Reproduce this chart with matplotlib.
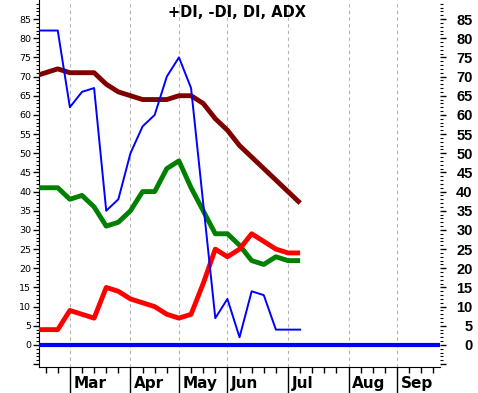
import matplotlib
matplotlib.use("Agg")
import matplotlib.pyplot as plt
from matplotlib.ticker import FixedLocator, FuncFormatter

# --- data (weekly points, x = week index, 0 = last week of Feb) ---
weeks = list(range(-2, 21))
di_line = [82, 82, 82, 62, 66, 67, 35, 38, 50, 57, 60, 70, 75, 67, 37, 7, 12, 2, 14, 13, 4, 4, 4]
minus_di = [4, 4, 4, 9, 8, 7, 15, 14, 12, 11, 10, 8, 7, 8, 16, 25, 23, 25, 29, 27, 25, 24, 24]
plus_di = [41, 41, 41, 38, 39, 36, 31, 32, 35, 40, 40, 46, 48, 41, 35, 29, 29, 26, 22, 21, 23, 22, 22]
adx = [70, 71, 72, 71, 71, 71, 68, 66, 65, 64, 64, 64, 65, 65, 63, 59, 56, 52, 49, 46, 43, 40, 37]

months = ["Mar", "Apr", "May", "Jun", "Jul", "Aug", "Sep"]
month_pos = [1, 6, 10, 14, 19, 24, 28]
week_ticks = list(range(-1, 32))
y_major = list(range(-5, 90, 5))
y_minor = list(range(-5, 90))

fig = plt.figure(figsize=(4.78, 3.93), dpi=100)
ax = fig.add_axes([0.081, 0.0662, 0.8395, 0.9338])

ax.plot(weeks, adx, color="#800000", lw=3.5, solid_capstyle="butt", zorder=3)
ax.plot(weeks, plus_di, color="#008000", lw=3.5, solid_capstyle="butt", zorder=3)
ax.plot(weeks, minus_di, color="#ff0000", lw=3.5, solid_capstyle="butt", zorder=4)
ax.plot(weeks, di_line, color="#0000ff", lw=1.4, zorder=5)
ax.axhline(0, color="#0000ff", lw=3.0, zorder=6)

ax.set_xlim(-1.57, 31.54)
ax.set_ylim(-5.74, 89.96)

# x axis: months + weekly ticks
ax.xaxis.set_major_locator(FixedLocator(month_pos))
ax.xaxis.set_minor_locator(FixedLocator(week_ticks))
ax.set_xticklabels([])
ax.tick_params(axis="x", which="major", length=19, width=1, direction="out")
ax.tick_params(axis="x", which="minor", length=4.3, width=1, direction="out")
for m, p in zip(months, month_pos):
    ax.annotate(m, xy=(p, 0), xycoords=("data", "axes fraction"),
                xytext=(2.5, -12.2), textcoords="offset points",
                ha="left", va="center", fontsize=11, fontweight="bold")
ax.grid(axis="x", which="major", color="#b4b4b4", lw=0.8, ls=(0, (3, 3)))

# left y axis
fmt = FuncFormatter(lambda v, p: "" if v < 0 else f"{int(v)}")
ax.yaxis.set_major_locator(FixedLocator(y_major))
ax.yaxis.set_minor_locator(FixedLocator(y_minor))
ax.yaxis.set_major_formatter(fmt)
ax.tick_params(axis="y", which="major", length=4.3, width=1, pad=1, labelsize=6.8)
ax.tick_params(axis="y", which="minor", length=2.2, width=0.8)

for s in ["top", "right"]:
    ax.spines[s].set_visible(False)

# right y axis
ax2 = ax.twinx()
ax2.set_ylim(ax.get_ylim())
ax2.yaxis.set_major_locator(FixedLocator(y_major))
ax2.yaxis.set_minor_locator(FixedLocator(y_minor))
ax2.yaxis.set_major_formatter(fmt)
ax2.tick_params(axis="y", which="major", length=4, width=1, pad=19.5)
ax2.tick_params(axis="y", which="minor", length=2.2, width=0.8)
for t in ax2.get_yticklabels():
    t.set_ha("right")
    t.set_family("Liberation Sans")
    t.set_fontsize(10.5)
    t.set_fontweight("bold")
for s in ["top", "right", "left", "bottom"]:
    ax2.spines[s].set_visible(False)

ax.text(0.493, 0.965, "+DI, -DI, DI, ADX", transform=ax.transAxes,
        ha="center", va="center", fontsize=10.5, fontweight="bold")

fig.savefig("out.png", dpi=100)
